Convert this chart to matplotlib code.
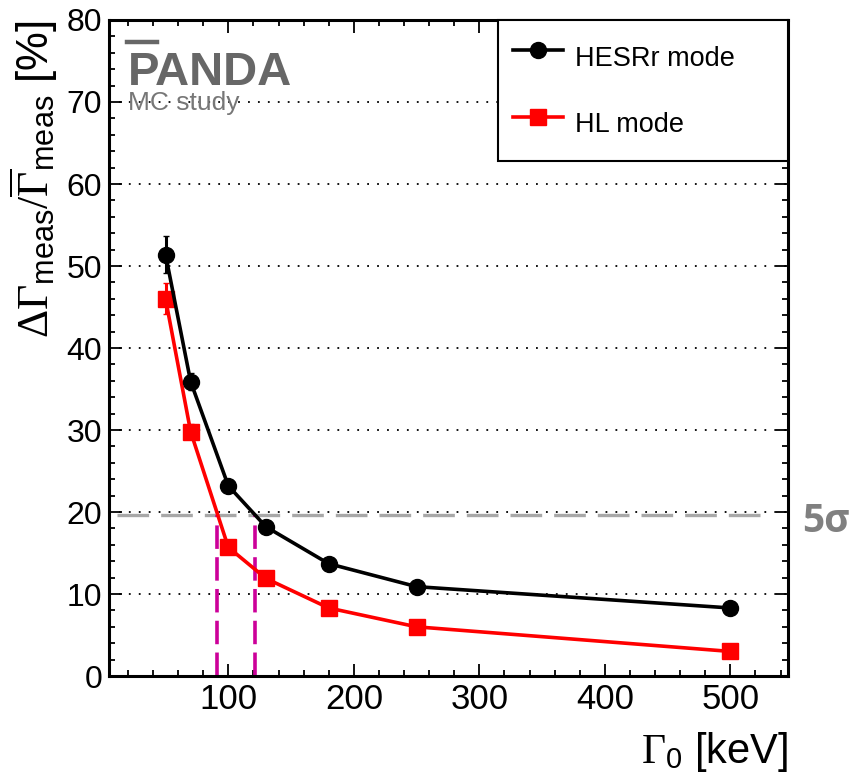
import matplotlib
matplotlib.use("Agg")
import matplotlib.pyplot as plt
from matplotlib.lines import Line2D
from matplotlib.ticker import MultipleLocator

plt.rcParams['font.family'] = ['Liberation Sans', 'DejaVu Sans']
plt.rcParams['mathtext.fontset'] = 'custom'
plt.rcParams['mathtext.rm'] = 'Liberation Serif'
plt.rcParams['mathtext.sf'] = 'Liberation Sans'
plt.rcParams['mathtext.it'] = 'Liberation Serif:italic'

# ---- data ----
gamma0 = [50, 70, 100, 130, 180, 250, 500]
hesrr = [51.4, 35.9, 23.2, 18.2, 13.7, 10.9, 8.3]
hesrr_err = [2.2, 1.0, 0.7, 0.6, 0.5, 0.4, 0.3]
hl = [46.0, 29.8, 15.7, 11.9, 8.3, 6.0, 3.0]
hl_err = [1.9, 0.9, 0.6, 0.5, 0.4, 0.3, 0.3]
five_sigma = 19.6
crossings = [91.3, 121.6]
x_ticks = [100, 200, 300, 400, 500]
y_ticks = [0, 10, 20, 30, 40, 50, 60, 70, 80]
series_labels = ['HESRr mode', 'HL mode']

fig = plt.figure(figsize=(8.52, 7.75), dpi=100)
ax = fig.add_axes([0.128, 0.1277, 0.797, 0.8465])

ax.set_xlim(5, 546)
ax.set_ylim(0, 80)

# grid (horizontal dotted)
for yv in y_ticks[1:-1]:
    ax.axhline(yv, color='black', lw=1.3, ls=(0, (1, 4.5)), zorder=1)

# 5 sigma line
ax.axhline(five_sigma, xmin=0.012, xmax=0.965, color='#a8a8a8', lw=2.4,
           ls=(0, (9.5, 3.6)), zorder=2)
ax.vlines(crossings, 0, five_sigma, color='#cc0099', lw=2.6,
          linestyles=[(0, (6.5, 2.3))], zorder=2)

ax.errorbar(gamma0, hesrr, yerr=hesrr_err, color='black', marker='o', ms=11.5,
            lw=2.6, capsize=2.5, elinewidth=2.2, zorder=4)
ax.errorbar(gamma0, hl, yerr=hl_err, color='#ff0000', marker='s', ms=11.5,
            lw=2.6, capsize=2.5, elinewidth=2.2, zorder=3)

ax.set_xticks(x_ticks)
ax.set_yticks(y_ticks)
ax.xaxis.set_minor_locator(MultipleLocator(20))
ax.yaxis.set_minor_locator(MultipleLocator(2))
ax.tick_params(which='both', direction='in', top=True, right=True, width=1.3)
ax.tick_params(which='major', length=9)
ax.tick_params(which='minor', length=4.5)
ax.tick_params(axis='x', labelsize=25, pad=5)
ax.tick_params(axis='y', labelsize=23, pad=5)
for s in ax.spines.values():
    s.set_linewidth(2.2)

ax.set_xlabel(r'$\Gamma_{\mathsf{0}}$ [keV]', fontsize=30, loc='right', labelpad=10)
ax.set_ylabel(r'$\Delta\Gamma_{\mathsf{meas}}/\overline{\Gamma}_{\mathsf{meas}}$ [%]',
              fontsize=31.5, loc='top', labelpad=5)

handles = [Line2D([], [], color='black', marker='o', ms=11.5, lw=2.6),
           Line2D([], [], color='#ff0000', marker='s', ms=11.5, lw=2.6)]
x0 = 0.573
leg = ax.legend(handles, series_labels, loc='upper right',
                bbox_to_anchor=(x0, 0.0, 1.0 - x0, 1.0), mode='expand',
                borderaxespad=0, fontsize=19.5, frameon=True, fancybox=False,
                handlelength=1.85, handleheight=2.16, labelspacing=0.81,
                borderpad=0.55, handletextpad=0.45)
leg.get_frame().set_edgecolor('black')
leg.get_frame().set_linewidth(1.5)
leg.get_frame().set_alpha(1)

# PANDA logo
ax.text(0.028, 0.901, 'PANDA', transform=ax.transAxes, fontsize=34,
        fontweight='bold', color='#676767', va='baseline', ha='left', zorder=5)
ax.add_line(Line2D([0.026, 0.071], [0.966, 0.966], transform=ax.transAxes,
                   color='#676767', lw=3.2, zorder=5))
ax.text(0.028, 0.863, 'MC study', transform=ax.transAxes, fontsize=19,
        color='#777777', va='baseline', ha='left', zorder=5)

fig.text(802 / 852, 1 - 521 / 775, '5σ', fontsize=28, fontweight='bold',
         color='#808080', family=['Open Sans', 'DejaVu Sans'], va='center', ha='left')

fig.savefig('out.png', dpi=100)
